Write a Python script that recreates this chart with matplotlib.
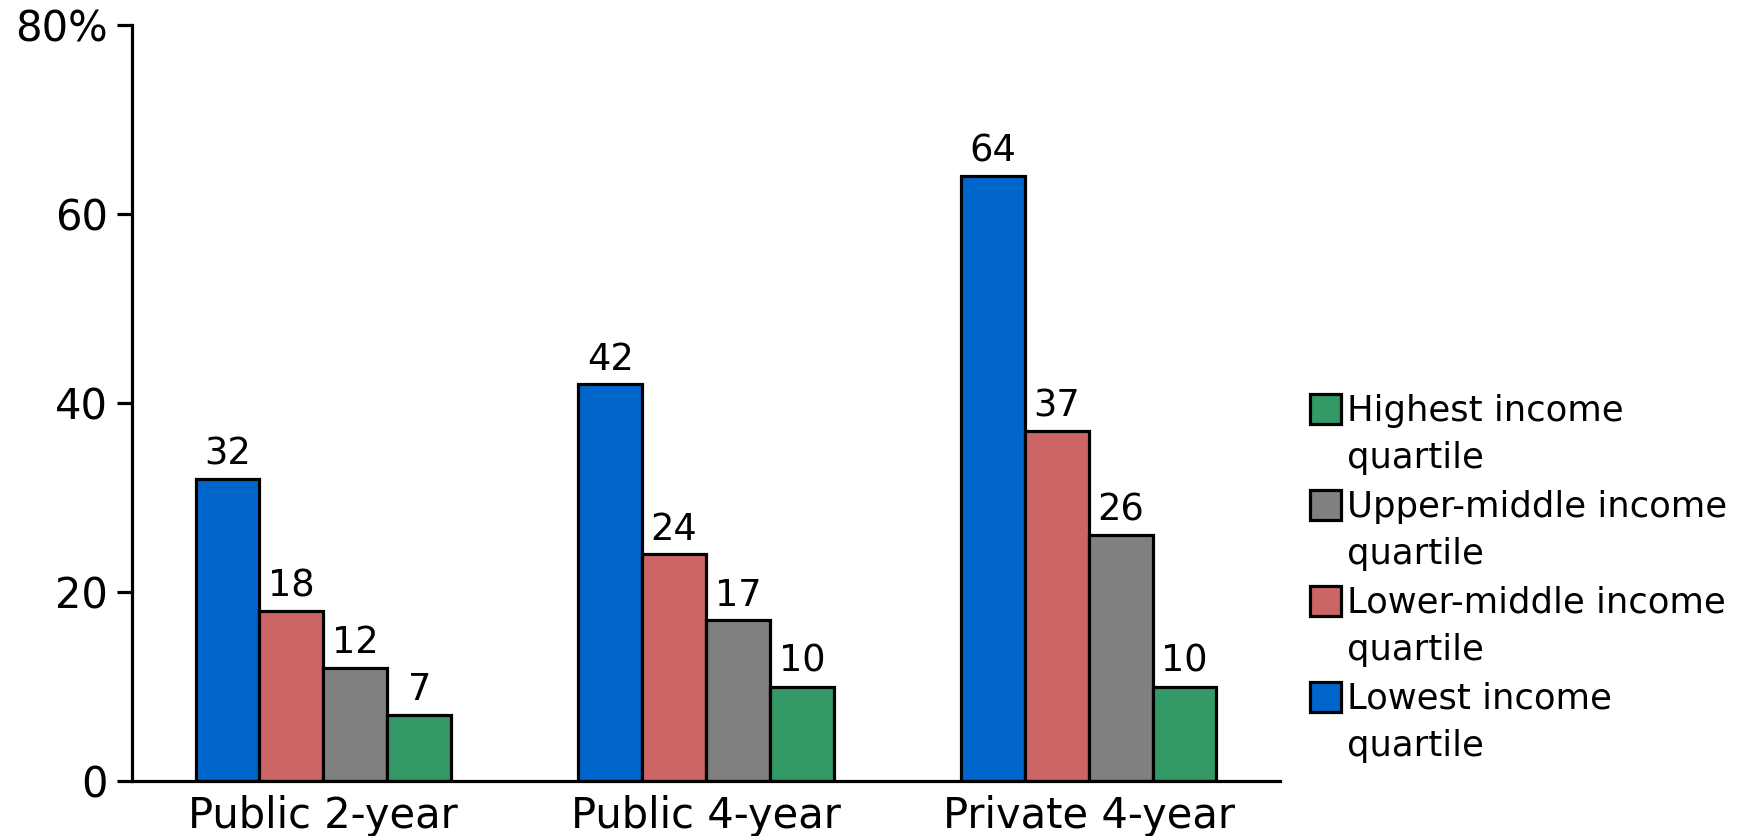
import matplotlib
matplotlib.use("Agg")
import matplotlib.pyplot as plt
from matplotlib.patches import Rectangle
import numpy as np

# Share of students (%) by institution type and family income quartile
sectors = ["Public 2-year", "Public 4-year", "Private 4-year"]
lowest = [32, 42, 64]
lower_middle = [18, 24, 37]
upper_middle = [12, 17, 26]
highest = [7, 10, 10]

series = [lowest, lower_middle, upper_middle, highest]
series_names = [
    "Lowest income\nquartile",
    "Lower-middle income\nquartile",
    "Upper-middle income\nquartile",
    "Highest income\nquartile",
]
colors = ["#0066CC", "#CC6666", "#808080", "#339966"]

y_ticks = [0, 20, 40, 60, 80]
y_tick_labels = ["0", "20", "40", "60", "80%"]

plt.rcParams["font.family"] = ["DejaVu Sans"]

W, H = 1753, 836
fig = plt.figure(figsize=(W / 100, H / 100), dpi=100)
ax = fig.add_axes([132 / W, 1 - 781 / H, (1280 - 132) / W, (781 - 25) / H])

x = np.arange(len(sectors))
bar_w = 0.167
offsets = (np.arange(len(series)) - (len(series) - 1) / 2) * bar_w

for vals, off, col in zip(series, offsets, colors):
    bars = ax.bar(x + off, vals, width=bar_w, color=col, edgecolor="black",
                  linewidth=2.3, zorder=3)
    for b, v in zip(bars, vals):
        ax.annotate(f"{v}", (b.get_x() + b.get_width() / 2, v),
                    xytext=(0, 10.5), textcoords="offset points",
                    ha="center", va="baseline", fontsize=26.5)

ax.set_xlim(-0.5, 2.5)
ax.set_ylim(0, 80)
ax.set_yticks(y_ticks)
ax.set_yticklabels(y_tick_labels)
ax.set_xticks(x)
ax.set_xticklabels(sectors)

for s in ["top", "right"]:
    ax.spines[s].set_visible(False)
for s in ["left", "bottom"]:
    ax.spines[s].set_linewidth(2.3)
    ax.spines[s].set_zorder(4)

ax.tick_params(axis="y", length=10.5, width=2.3, labelsize=30, pad=7)
ax.tick_params(axis="x", length=0, labelsize=30, pad=10)

# Legend drawn in figure pixel space, top entry first
legend_order = [3, 2, 1, 0]
sq_x, sq_w, sq_h = 1310, 31, 30
text_x = 1347
first_top = 394
step = 96
for i, idx in enumerate(legend_order):
    top = first_top + i * step
    fig.patches.append(Rectangle((sq_x / W, 1 - (top + sq_h) / H), sq_w / W, sq_h / H,
                                 transform=fig.transFigure, facecolor=colors[idx],
                                 edgecolor="black", linewidth=2.3))
    # baseline alignment of multi-line text follows the last line
    fig.text(text_x / W, 1 - (top + 74) / H, series_names[idx], fontsize=25.5,
             ha="left", va="baseline", linespacing=1.5)

fig.savefig("out.png", dpi=100)
